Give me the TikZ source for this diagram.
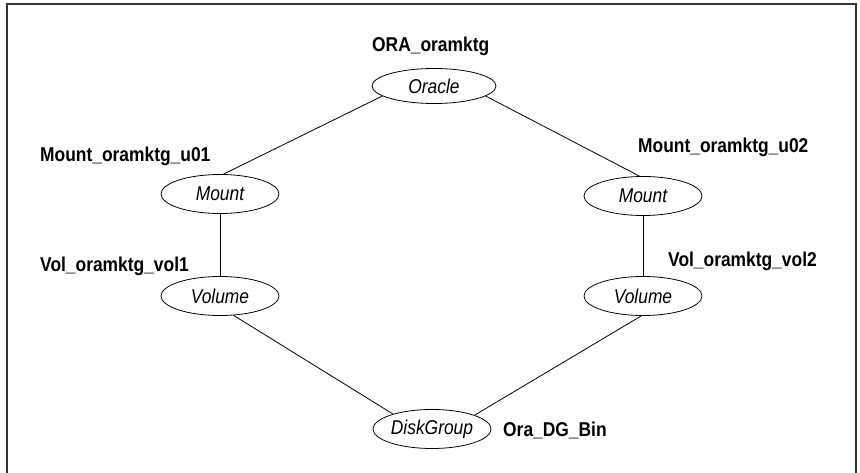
\documentclass[tikz,border=0pt]{standalone}
\usepackage{fontspec}
\setmainfont{Liberation Sans}[FakeStretch=0.87]
\usetikzlibrary{shapes.geometric}
\begin{document}
\begin{tikzpicture}[x=1pt,y=-1pt,
  res/.style={ellipse,draw,line width=0.8pt,inner sep=0pt,minimum width=118pt,minimum height=39pt,font=\fontsize{20}{24}\selectfont\itshape},
  lbl/.style={anchor=base west,inner sep=0pt,font=\fontsize{20}{24}\selectfont\bfseries},
  link/.style={line width=0.8pt}]
\useasboundingbox (0,0) rectangle (860,473);
\draw[line width=1.6pt,black!80] (7,480) -- (7,4) -- (856,4) -- (856,480);
\node[res,minimum width=124pt,minimum height=35pt] (oracle) at (434,86) {Oracle};
\node[res] (mountL) at (220,194) {Mount};
\node[res] (mountR) at (643,196) {Mount};
\node[res] (volL) at (220,296) {Volume};
\node[res] (volR) at (643,296) {Volume};
\node[res] (dg) at (432,429) {DiskGroup};
\node[lbl] (t1) at (372,52) {ORA\_oramktg};
\node[lbl] (t2) at (40,162) {Mount\_oramktg\_u01};
\node[lbl] (t3) at (638,153) {Mount\_oramktg\_u02};
\node[lbl] (t4) at (40,272) {Vol\_oramktg\_vol1};
\node[lbl] (t5) at (668,267) {Vol\_oramktg\_vol2};
\node[lbl] (t6) at (503,436) {Ora\_DG\_Bin};
\draw[link] (oracle.191) -- (mountL.80);
\draw[link] (oracle.-11) -- (mountR.100);
\draw[link] (mountL) -- (volL);
\draw[link] (mountR) -- (volR);
\draw[link] (volL.-55) -- (dg.159);
\draw[link] (volR.-95) -- (dg.18);
\end{tikzpicture}
\end{document}
